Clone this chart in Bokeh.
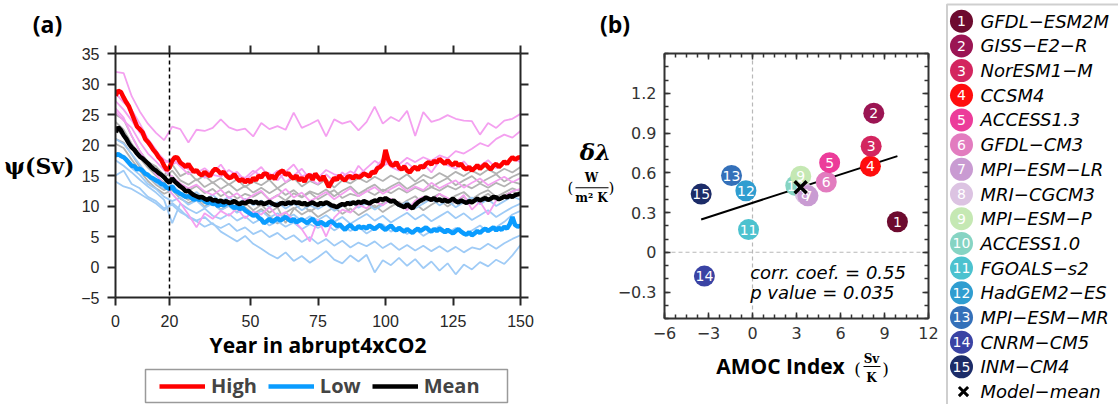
import numpy as np
from bokeh.plotting import figure
from bokeh.models import (Range1d, LinearAxis, FixedTicker, Span, Legend,
                          LegendItem, ColumnDataSource)
from bokeh.layouts import row, column
from bokeh.embed import file_html
from bokeh.resources import INLINE
from bokeh.core.properties import value

# ---------------- panel (a) data ----------------
years = list(range(0, 151))
thin_years = list(range(0, 151, 3))

high_mean = [
    28.1, 28.9, 28.7, 27.8, 27.0, 26.3, 25.2, 24.1, 23.0, 22.6,
    22.1, 21.0, 20.5, 19.9, 19.2, 18.7, 18.0, 17.5, 16.6, 15.9,
    16.3, 17.4, 18.0, 17.9, 17.1, 16.8, 16.4, 16.9, 16.2, 15.6,
    15.9, 15.3, 15.0, 15.6, 15.2, 14.9, 15.7, 16.1, 15.8, 15.3,
    15.6, 15.0, 14.6, 14.7, 15.2, 14.5, 14.1, 14.4, 13.9, 14.3,
    13.9, 14.6, 14.2, 15.0, 14.7, 15.3, 15.3, 14.5, 15.0, 14.4,
    15.2, 15.6, 15.8, 15.1, 15.4, 14.8, 14.5, 15.0, 14.2, 14.6,
    14.0, 14.8, 15.1, 14.3, 15.3, 14.7, 14.2, 14.9, 14.0, 13.1,
    13.9, 14.6, 14.3, 15.0, 14.5, 14.2, 14.8, 14.9, 14.5, 15.0,
    14.7, 14.9, 15.3, 15.1, 14.8, 15.6, 15.4, 16.2, 16.4, 16.9,
    19.2, 17.6, 16.8, 16.6, 17.2, 16.3, 16.0, 16.5, 15.8, 15.5,
    16.1, 16.4, 15.9, 16.6, 16.3, 16.9, 17.2, 16.8, 17.4, 17.1,
    17.7, 17.3, 16.9, 17.5, 17.0, 16.7, 17.2, 16.6, 16.9, 16.3,
    16.0, 16.4, 15.8, 16.2, 16.7, 16.1, 16.5, 16.9, 16.4, 16.0,
    16.6, 16.9, 16.4, 16.8, 17.3, 16.9, 17.5, 18.0, 17.6, 17.9,
    18.0]

all_mean = [
    22.1, 22.9, 22.4, 21.6, 21.0, 20.2, 19.6, 19.2, 18.6, 18.1,
    17.8, 17.4, 17.0, 16.5, 16.1, 15.8, 15.4, 15.1, 14.7, 14.2,
    13.8, 14.5, 14.0, 13.6, 13.2, 12.9, 12.4, 12.5, 12.1, 11.8,
    11.6, 11.4, 11.5, 11.2, 11.0, 11.3, 10.9, 11.0, 10.7, 10.9,
    10.6, 10.8, 10.5, 10.6, 10.8, 10.5, 10.3, 10.6, 10.4, 10.7,
    10.8, 10.5, 10.7, 10.4, 10.6, 10.3, 10.5, 10.7, 10.4, 10.2,
    10.1, 10.4, 10.5, 10.3, 10.6, 10.4, 10.7, 10.5, 10.6, 10.3,
    10.5, 10.2, 10.4, 10.6, 10.3, 10.2, 10.5, 10.3, 10.6, 10.4,
    10.1, 10.0, 9.8, 10.1, 10.3, 10.2, 10.5, 10.3, 10.6, 10.4,
    10.7, 10.5, 10.8, 10.6, 10.4, 10.7, 10.9, 10.8, 11.2, 11.0,
    11.3, 11.0, 10.7, 10.9, 10.5, 10.2, 10.0, 9.8, 10.3, 9.9,
    9.6, 10.2, 10.6, 10.9, 11.1, 11.4, 11.2, 11.0, 11.3, 10.9,
    11.1, 10.8, 11.0, 10.7, 10.9, 11.2, 10.8, 10.6, 10.9, 10.7,
    10.5, 10.8, 10.6, 10.9, 11.2, 10.9, 11.1, 11.3, 11.0, 11.2,
    11.5, 11.4, 11.1, 11.3, 11.6, 11.4, 11.7, 11.5, 11.8, 11.9,
    12.0]

low_mean = [
    18.3, 18.5, 18.2, 18.0, 17.6, 17.1, 16.6, 16.5, 16.0, 16.1,
    15.8, 15.3, 15.1, 14.7, 14.5, 14.2, 14.0, 13.6, 13.5, 13.0,
    12.8, 13.2, 12.5, 12.3, 12.0, 11.8, 11.5, 11.6, 11.4, 11.0,
    11.3, 11.0, 11.2, 10.8, 10.5, 10.7, 10.3, 10.4, 10.0, 10.3,
    10.1, 10.4, 10.6, 10.0, 9.7, 9.9, 9.5, 9.8, 9.3, 9.0,
    8.7, 8.4, 8.6, 8.1, 7.8, 7.2, 7.5, 7.9, 7.4, 7.7,
    8.0, 7.6, 7.9, 8.2, 7.8, 7.5, 7.9, 7.3, 7.6, 7.8,
    7.5, 7.2, 7.6, 7.9, 7.3, 7.0, 7.4, 7.1, 6.8, 7.3,
    7.5, 7.1, 6.7, 7.0, 6.5, 6.1, 6.6, 6.9, 6.4, 6.2,
    6.7, 6.4, 6.6, 6.3, 6.8, 6.5, 6.2, 6.6, 6.9, 6.4,
    6.1, 6.5, 6.8, 6.3, 6.0, 6.4, 6.1, 5.8, 6.2, 5.9,
    5.6, 6.0, 6.3, 5.9, 6.2, 6.5, 6.1, 5.8, 6.2, 5.9,
    6.3, 6.0, 5.7, 6.1, 5.8, 5.5, 5.9, 6.2, 5.8, 5.5,
    5.3, 5.7, 5.2, 5.5, 5.9, 5.6, 6.0, 6.3, 5.9, 6.2,
    6.5, 6.0, 6.4, 6.1, 6.6, 6.3, 7.0, 8.2, 6.9, 6.6,
    6.8]

# individual models, every third year
high_models = [
    [32.0, 31.8, 28.0, 25.5, 23.5, 22.0, 20.8, 23.0, 22.6, 20.4,
     22.5, 22.3, 22.8, 24.2, 22.9, 22.4, 22.7, 21.4, 23.6, 22.6,
     23.1, 22.5, 25.3, 22.8, 23.4, 24.1, 21.4, 24.2, 23.5, 23.9,
     22.4, 23.8, 26.3, 23.5, 24.6, 23.9, 25.6, 21.5, 25.4, 23.8,
     24.2, 24.9, 24.3, 24.0, 23.9, 21.7, 23.6, 22.8, 24.0, 24.3, 25.1],
    [27.2, 25.8, 24.0, 22.0, 20.3, 19.0, 17.6, 16.8, 17.5, 16.0,
     15.4, 16.2, 15.1, 14.8, 15.9, 15.0, 14.6, 15.8, 14.9, 15.4,
     14.2, 15.6, 16.8, 14.9, 15.3, 14.6, 15.9, 15.2, 14.8, 15.7,
     15.0, 16.2, 17.4, 16.5, 17.3, 16.8, 17.9, 17.2, 18.0, 17.4,
     18.3, 17.8, 19.0, 18.6, 19.4, 20.3, 19.8, 21.0, 21.7, 21.2, 22.3],
    [26.0, 24.5, 21.5, 19.0, 17.0, 15.2, 13.5, 12.0, 10.5, 8.6,
     6.5, 8.8, 7.9, 9.2, 8.4, 9.6, 8.0, 9.1, 8.6, 9.8,
     8.3, 9.0, 7.6, 6.2, 4.2, 7.8, 5.0, 8.1, 9.4, 8.9,
     10.2, 9.6, 10.8, 10.1, 11.2, 10.5, 9.3, 10.9, 11.5, 10.8,
     12.0, 11.3, 10.6, 11.8, 9.4, 10.7, 8.6, 10.9, 11.6, 12.4, 12.8],
    [28.5, 27.0, 25.8, 23.5, 21.0, 19.2, 17.0, 17.8, 16.5, 15.2,
     15.9, 14.6, 15.4, 16.8, 14.9, 15.6, 14.2, 15.3, 16.4, 14.7,
     15.8, 13.9, 15.0, 16.1, 14.4, 13.6, 15.2, 14.0, 15.5, 14.3,
     16.6, 15.1, 16.0, 17.8, 16.4, 15.8, 17.1, 16.0, 16.9, 15.5,
     17.4, 16.7, 16.1, 17.3, 15.9, 16.6, 17.5, 16.2, 17.0, 17.8, 17.2],
    [25.5, 24.0, 22.8, 20.5, 18.6, 17.3, 15.9, 14.8, 13.7, 12.9,
     13.5, 12.4, 11.8, 12.7, 11.3, 12.1, 10.9, 11.8, 12.5, 11.0,
     11.7, 12.8, 11.4, 12.2, 10.8, 11.5, 12.3, 11.1, 12.0, 12.9,
     11.6, 12.4, 13.1, 12.0, 12.8, 13.5, 12.4, 13.2, 12.6, 13.8,
     12.9, 13.6, 14.2, 13.0, 13.8, 14.5, 13.4, 14.1, 14.8, 13.9, 14.6],
]

mid_models = [
    [25.0, 24.2, 21.5, 19.0, 17.2, 16.5, 15.0, 16.8, 14.9, 15.6,
     14.2, 15.0, 13.8, 14.6, 13.5, 14.4, 13.1, 14.0, 13.4, 14.3,
     12.9, 13.8, 14.6, 13.2, 14.1, 13.5, 14.4, 13.0, 14.2, 13.7,
     14.6, 13.9, 14.8, 14.1, 15.0, 14.3, 15.2, 14.0, 15.1, 14.5,
     15.4, 14.7, 15.6, 14.9, 15.8, 15.1, 16.0, 15.3, 16.1, 15.5, 16.4],
    [22.5, 21.6, 19.8, 17.9, 16.3, 15.0, 13.8, 14.9, 13.2, 12.5,
     13.3, 12.1, 12.8, 11.6, 12.4, 11.2, 12.0, 11.5, 12.3, 11.0,
     11.8, 10.9, 12.1, 11.4, 12.2, 11.1, 11.9, 12.6, 11.3, 12.0,
     11.6, 12.5, 11.8, 12.7, 12.1, 12.9, 12.2, 13.0, 12.4, 13.1,
     12.5, 13.3, 12.7, 13.5, 12.9, 13.7, 13.0, 13.8, 13.2, 14.0, 13.6],
    [21.0, 20.4, 18.5, 16.4, 14.8, 13.5, 12.6, 13.2, 11.8, 11.0,
     11.7, 10.4, 11.2, 10.1, 10.8, 9.7, 10.5, 9.3, 10.2, 8.9,
     9.8, 7.2, 9.5, 10.3, 9.1, 9.9, 10.6, 9.4, 10.2, 9.0,
     10.1, 10.8, 9.7, 10.5, 11.2, 10.0, 10.9, 11.6, 10.4, 11.3,
     12.0, 10.9, 11.7, 12.3, 11.1, 12.0, 12.6, 11.5, 12.2, 12.9, 12.4],
    [23.8, 22.5, 20.2, 18.4, 16.9, 15.6, 14.6, 15.8, 14.2, 13.5,
     14.4, 13.1, 13.9, 12.8, 13.6, 12.5, 13.3, 12.2, 13.0, 12.1,
     12.9, 11.8, 12.6, 11.5, 12.4, 11.9, 12.7, 11.6, 12.5, 13.2,
     12.0, 12.8, 13.5, 12.4, 13.2, 13.9, 12.8, 13.6, 14.3, 13.1,
     13.9, 14.6, 13.4, 14.2, 14.9, 13.8, 14.5, 15.2, 14.0, 14.8, 15.4],
    [20.2, 19.5, 17.6, 15.8, 14.1, 12.9, 12.0, 12.6, 11.2, 10.5,
     11.2, 9.9, 10.6, 9.4, 10.1, 9.0, 9.8, 8.7, 9.5, 8.4,
     7.1, 8.9, 9.7, 8.6, 9.4, 8.2, 9.0, 9.8, 8.7, 9.6,
     8.5, 9.3, 10.1, 9.0, 9.9, 10.7, 9.6, 10.4, 9.3, 10.2,
     11.0, 9.9, 10.8, 11.5, 10.4, 11.2, 12.0, 10.9, 11.7, 12.4, 11.8],
]

low_models = [
    [21.0, 20.2, 18.5, 16.8, 15.0, 13.8, 12.9, 13.5, 12.2, 11.6,
     12.3, 11.1, 11.8, 10.7, 11.5, 10.4, 11.2, 10.1, 10.9, 9.8,
     10.6, 9.6, 10.4, 9.3, 10.1, 9.5, 10.3, 9.2, 10.0, 10.8,
     9.7, 10.5, 9.4, 10.2, 11.0, 9.9, 10.7, 9.6, 10.4, 11.2,
     10.1, 10.9, 9.8, 10.6, 11.4, 10.3, 11.1, 10.0, 10.8, 11.6, 11.0],
    [18.5, 17.8, 16.2, 15.1, 13.6, 12.8, 11.5, 10.8, 11.4, 10.2,
     10.9, 9.7, 10.4, 9.3, 10.0, 8.9, 9.6, 8.5, 9.2, 8.1,
     8.8, 7.9, 8.6, 7.5, 8.3, 7.7, 8.5, 7.4, 8.2, 7.1,
     7.9, 8.7, 7.6, 8.4, 7.3, 8.1, 8.9, 7.8, 8.6, 7.5,
     8.3, 9.1, 8.0, 8.8, 7.7, 8.5, 9.3, 8.2, 9.0, 9.8, 10.4],
    [17.5, 16.6, 15.5, 14.3, 13.2, 12.2, 11.0, 7.2, 10.4, 9.5,
     8.8, 9.6, 8.4, 7.9, 8.7, 7.6, 8.3, 7.2, 7.9, 6.8,
     7.5, 6.6, 7.3, 6.2, 7.0, 6.4, 7.1, 6.0, 6.8, 5.9,
     6.6, 5.5, 6.3, 7.0, 5.8, 6.5, 5.4, 6.2, 5.1, 5.9,
     6.7, 5.6, 6.4, 5.2, 6.0, 6.8, 5.7, 6.5, 7.4, 8.6, 9.2],
    [15.0, 15.8, 13.6, 12.9, 11.5, 10.8, 9.6, 10.2, 9.0, 8.3,
     7.6, 8.2, 7.0, 6.4, 7.1, 5.9, 6.5, 5.4, 6.0, 4.9,
     5.6, 4.5, 5.2, 4.1, 4.9, 3.8, 4.6, 3.5, 4.3, 3.2,
     4.0, 3.4, 4.2, 3.1, 3.9, 2.8, 3.6, 2.7, 3.5, 2.6,
     3.4, 2.5, 3.3, 2.4, 3.2, 2.9, 3.8, 3.0, 3.9, 4.6, 5.2],
    [14.0, 13.2, 12.8, 12.0, 11.2, 10.4, 9.3, 10.5, 9.4, 8.1,
     7.5, 6.6, 7.2, 5.8, 5.0, 4.2, 5.1, 3.8, 3.0, 2.1,
     1.4, 2.4, 1.0, 1.8, 0.7, 1.6, 2.6, 1.2, 0.6, 1.9,
     0.9, 2.0, -0.9, 1.1, 0.3, 1.5, 0.2, 1.3, -0.2, 0.9,
     -0.6, 0.6, -1.2, 0.4, -0.4, 0.8, 0.1, 1.2, 0.5, 1.9, 3.6],
]

x_ticks_a = [0, 20, 50, 75, 100, 125, 150]
y_ticks_a = [-5, 0, 5, 10, 15, 20, 25, 30, 35]
legend_labels_a = ["High", "Low", "Mean"]
split_year = 20

# ---------------- panel (b) data ----------------
model_names = ["GFDL\u2212ESM2M", "GISS\u2212E2\u2212R", "NorESM1\u2212M", "CCSM4",
               "ACCESS1.3", "GFDL\u2212CM3", "MPI\u2212ESM\u2212LR", "MRI\u2212CGCM3",
               "MPI\u2212ESM\u2212P", "ACCESS1.0", "FGOALS\u2212s2", "HadGEM2\u2212ES",
               "MPI\u2212ESM\u2212MR", "CNRM\u2212CM5", "INM\u2212CM4"]
amoc_index = [9.88, 8.27, 8.09, 8.04, 5.26, 5.03, 3.78, 3.6, 3.29, 2.95,
              -0.27, -0.45, -1.43, -3.28, -3.5]
delta_lambda = [0.23, 1.05, 0.80, 0.65, 0.676, 0.53, 0.426, 0.44, 0.574, 0.503,
                0.171, 0.464, 0.579, -0.18, 0.439]
model_colors = ["#6d0b2f", "#9b1553", "#d3255f", "#ff0d0d", "#ec3c9a",
                "#e27cbf", "#c99bd2", "#dcc3e2", "#c5e8b3", "#86d4c3",
                "#4cc2cf", "#2f9dd0", "#3470b9", "#3a43a4", "#1c2c68"]
mean_label = "Model\u2212mean"
x_ticks_b = [-6, -3, 0, 3, 6, 9, 12]
y_ticks_b = [-0.3, 0, 0.3, 0.6, 0.9, 1.2]
corr_text = "corr. coef. = 0.55"
pval_text = "p value = 0.035"

# ---------------- styles ----------------
AXC = "#262626"
BXC = "#333333"
PINK = "#f4a0f0"
LBLUE = "#9fcbf6"
GRAY = "#b3b3b3"
RED = "#ff0000"
BLUE = "#0a9cff"
BLACK = "#000000"
BOLD_SANS = "Open Sans"
SERIF = "DejaVu Serif"


def no_grid(f):
    f.xgrid.grid_line_color = None
    f.ygrid.grid_line_color = None


def add_axis(p, side, ticks, show, font, size, color, out, inn, minor=None,
             standoff=8, overrides=None):
    ax = LinearAxis(ticker=FixedTicker(ticks=ticks, minor_ticks=minor or []))
    ax.axis_line_color = color
    ax.axis_line_width = 2
    ax.major_tick_line_color = color
    ax.major_tick_line_width = 2 if minor is None else 1.5
    ax.major_tick_out = out
    ax.major_tick_in = inn
    if minor:
        ax.minor_tick_line_color = color
        ax.minor_tick_line_width = 1.5
        ax.minor_tick_in = 4
        ax.minor_tick_out = 0
    else:
        ax.minor_tick_line_color = None
    if show:
        ax.major_label_text_font = font
        ax.major_label_text_font_size = size
        ax.major_label_text_color = color
        ax.major_label_standoff = standoff
        if overrides:
            ax.major_label_overrides = overrides
    else:
        ax.major_label_text_font_size = "1px"
        ax.major_label_text_color = None
        ax.major_label_standoff = 0
    p.add_layout(ax, side)
    return ax


def pix_fig(x0, x1, y0, y1):
    """A figure whose frame is the whole figure, in page-pixel coordinates."""
    f = figure(width=x1 - x0, height=y1 - y0, min_border=0,
               x_range=Range1d(x0, x1), y_range=Range1d(y1, y0),
               x_axis_location=None, y_axis_location=None,
               output_backend="svg", toolbar_location=None)
    f.outline_line_color = None
    no_grid(f)
    return f


def put_text(f, x, y, txt, font, size, style="normal", align="center", color="black"):
    f.text([x], [y], text=[txt], text_font=value(font), text_font_size=size,
           text_font_style=style, text_align=align, text_baseline="middle",
           text_color=color)


# ================= left strip of panel (a): panel letter + y label =================
fL = pix_fig(0, 75, 0, 404)
put_text(fL, 47, 23, "(a)", BOLD_SANS, "23px", "bold")
put_text(fL, 74, 165, "\u03c8(Sv)", SERIF, "22px", "bold", align="right")

# ================= panel (a) =================
pa = figure(frame_width=405, frame_height=244, min_border_left=40, min_border_right=40,
            min_border_top=53, min_border_bottom=65,
            x_range=Range1d(0, 150), y_range=Range1d(-5, 35),
            x_axis_location=None, y_axis_location=None,
            output_backend="svg", toolbar_location=None)
pa.outline_line_color = None
no_grid(pa)

for vals in mid_models:
    pa.line(thin_years[:len(vals)], vals, line_color=GRAY, line_width=1.8)
for vals in low_models:
    pa.line(thin_years[:len(vals)], vals, line_color=LBLUE, line_width=1.8)
for vals in high_models:
    pa.line(thin_years[:len(vals)], vals, line_color=PINK, line_width=1.8)

pa.line(years[:len(high_mean)], high_mean, line_color=RED, line_width=4.5)
pa.line(years[:len(low_mean)], low_mean, line_color=BLUE, line_width=4.5)
pa.line(years[:len(all_mean)], all_mean, line_color=BLACK, line_width=4.5)

pa.add_layout(Span(location=split_year, dimension="height", line_color="black",
                   line_dash="4 3", line_width=1.5))

xa = add_axis(pa, "below", x_ticks_a, True, "Liberation Sans", "16px", AXC, 8, 0, standoff=9)
xa.axis_label = "Year in abrupt4xCO2"
xa.axis_label_text_font = BOLD_SANS
xa.axis_label_text_font_style = "bold"
xa.axis_label_text_font_size = "21px"
xa.axis_label_text_color = "black"
xa.axis_label_standoff = 1
add_axis(pa, "left", y_ticks_a, True, "Liberation Sans", "16px", AXC, 8, 0, standoff=8)
add_axis(pa, "above", x_ticks_a, False, None, None, AXC, 8, 0)
add_axis(pa, "right", y_ticks_a, False, None, None, AXC, 8, 0)

# legend strip below panel (a): same horizontal borders as panel (a), frame in page pixels
fLeg = figure(frame_width=405, frame_height=42, min_border_left=40, min_border_right=40,
              min_border_top=0, min_border_bottom=0,
              x_range=Range1d(115, 520), y_range=Range1d(404, 362),
              x_axis_location=None, y_axis_location=None,
              output_backend="svg", toolbar_location=None)
fLeg.outline_line_color = None
no_grid(fLeg)
fLeg.quad(left=[145], right=[507], top=[369], bottom=[402], fill_color=None,
          line_color="#9a9a9a", line_width=1.5)
# off-screen stand-ins that carry the legend line styles
g_high = fLeg.line([0, 1], [-100, -100], line_color=RED, line_width=4.5)
g_low = fLeg.line([0, 1], [-100, -100], line_color=BLUE, line_width=4.5)
g_mean = fLeg.line([0, 1], [-100, -100], line_color=BLACK, line_width=4.5)
leg = Legend(items=[LegendItem(label=legend_labels_a[0], renderers=[g_high]),
                    LegendItem(label=legend_labels_a[1], renderers=[g_low]),
                    LegendItem(label=legend_labels_a[2], renderers=[g_mean])],
             orientation="horizontal", location=(44, 5),
             label_text_font=BOLD_SANS, label_text_font_style="bold",
             label_text_font_size="20px", glyph_width=46, glyph_height=20,
             label_standoff=6, spacing=11, padding=0, margin=0,
             border_line_color=None, background_fill_color=None)
fLeg.add_layout(leg, "center")

# ================= panel (b) =================
pb = figure(frame_width=264, frame_height=265, min_border_left=47, min_border_right=11,
            min_border_top=8, min_border_bottom=30,
            x_range=Range1d(-6, 12), y_range=Range1d(-0.5, 1.5),
            x_axis_location=None, y_axis_location=None,
            output_backend="svg", toolbar_location=None)
pb.outline_line_color = None
no_grid(pb)

pb.add_layout(Span(location=0, dimension="height", line_color="#b8b8b8",
                   line_dash="4 3", line_width=1.2, level="underlay"))
pb.add_layout(Span(location=0, dimension="width", line_color="#b8b8b8",
                   line_dash="4 3", line_width=1.2, level="underlay"))

xs = np.array(amoc_index)
ys = np.array(delta_lambda)
slope, intercept = np.polyfit(xs, ys, 1)
fx = [xs.min(), xs.max()]
pb.line(fx, [slope * v + intercept for v in fx], line_color="black", line_width=2)

order = list(range(len(model_names)))[::-1]
src = ColumnDataSource(dict(
    x=[amoc_index[i] for i in order],
    y=[delta_lambda[i] for i in order],
    c=[model_colors[i] for i in order],
    t=[str(i + 1) for i in order]))
pb.scatter("x", "y", source=src, marker="circle", size=21, fill_color="c", line_color=None)
pb.text("x", "y", text="t", source=src, text_color="white", text_align="center",
        text_baseline="middle", text_font=value("DejaVu Sans"), text_font_size="14px")
pb.scatter([xs.mean()], [ys.mean()], marker="x", size=17, line_color="black", line_width=3.5)

pb.text([-0.16], [-0.15], text=[corr_text], text_font=value("DejaVu Sans"),
        text_font_style="italic", text_font_size="18px", text_align="left",
        text_baseline="middle", text_color="black")
pb.text([-0.16], [-0.30], text=[pval_text], text_font=value("DejaVu Sans"),
        text_font_style="italic", text_font_size="18px", text_align="left",
        text_baseline="middle", text_color="black")

minor_x = [float(v) for v in np.arange(-6, 12.001, 0.75)]
minor_y = [round(float(v), 2) for v in np.arange(-0.5, 1.5001, 0.1)]
add_axis(pb, "below", x_ticks_b, True, "DejaVu Sans", "16px", BXC, 0, 6, minor=minor_x,
         standoff=8, overrides={-6: "\u22126", -3: "\u22123"})
add_axis(pb, "left", y_ticks_b, True, "DejaVu Sans", "16px", BXC, 0, 6, minor=minor_y,
         standoff=8, overrides={-0.3: "\u22120.3"})
add_axis(pb, "above", x_ticks_b, False, None, None, BXC, 0, 6, minor=minor_x)
add_axis(pb, "right", y_ticks_b, False, None, None, BXC, 0, 6, minor=minor_y)

# strips around panel (b): panel letter, y label with fraction, x label with fraction
fBtop = pix_fig(560, 936, 0, 45)
put_text(fBtop, 614.5, 23, "(b)", BOLD_SANS, "23px", "bold")

fM = pix_fig(560, 614, 45, 348)
put_text(fM, 595, 157, "\u03b4\u03bb", SERIF, "23px", "bold italic")
put_text(fM, 591, 187, "W", SERIF, "12px", "bold")
fM.line([575, 608], [198.5, 198.5], line_color="black", line_width=1.2)
put_text(fM, 591, 210, "m\u00b2 K", SERIF, "12px", "bold")
put_text(fM, 570, 199, "(", SERIF, "15px")
put_text(fM, 611, 199, ")", SERIF, "15px")

fBbot = pix_fig(560, 936, 348, 404)
put_text(fBbot, 780, 365, "AMOC Index", BOLD_SANS, "21px", "bold")
put_text(fBbot, 857, 368, "(", SERIF, "17px")
put_text(fBbot, 885, 368, ")", SERIF, "17px")
put_text(fBbot, 871, 358, "Sv", SERIF, "12px", "bold")
fBbot.line([863, 880], [366, 366], line_color="black", line_width=1.2)
put_text(fBbot, 871, 377, "K", SERIF, "12px", "bold")

# ================= model legend panel =================
pc = pix_fig(936, 1118, 0, 404)
pc.quad(left=[943.5], right=[1140], top=[4], bottom=[430], fill_color=None,
        line_color="#cfcfcf", line_width=2)

n = len(model_names)
row_y = [20.7 + 24.69 * i for i in range(n + 1)]
leg_src = ColumnDataSource(dict(
    x=[958] * n, y=row_y[:n], c=model_colors, t=[str(i + 1) for i in range(n)],
    tx=[977] * n, name=model_names))
pc.scatter("x", "y", source=leg_src, marker="circle", size=23, fill_color="c", line_color=None)
pc.text("x", "y", text="t", source=leg_src, text_color="white", text_align="center",
        text_baseline="middle", text_font=value("DejaVu Sans"), text_font_size="14px")
pc.text("tx", "y", text="name", source=leg_src, text_color="black", text_align="left",
        text_baseline="middle", text_font=value("DejaVu Sans"), text_font_style="italic",
        text_font_size="18px")
pc.scatter([960], [row_y[n]], marker="x", size=13, line_color="black", line_width=3)
pc.text([977], [row_y[n]], text=[mean_label], text_color="black", text_align="left",
        text_baseline="middle", text_font=value("DejaVu Sans"), text_font_style="italic",
        text_font_size="18px")

layout = row(fL, column(pa, fLeg), column(fBtop, row(fM, pb), fBbot), pc)
open("out.html", "w").write(file_html(layout, INLINE))
